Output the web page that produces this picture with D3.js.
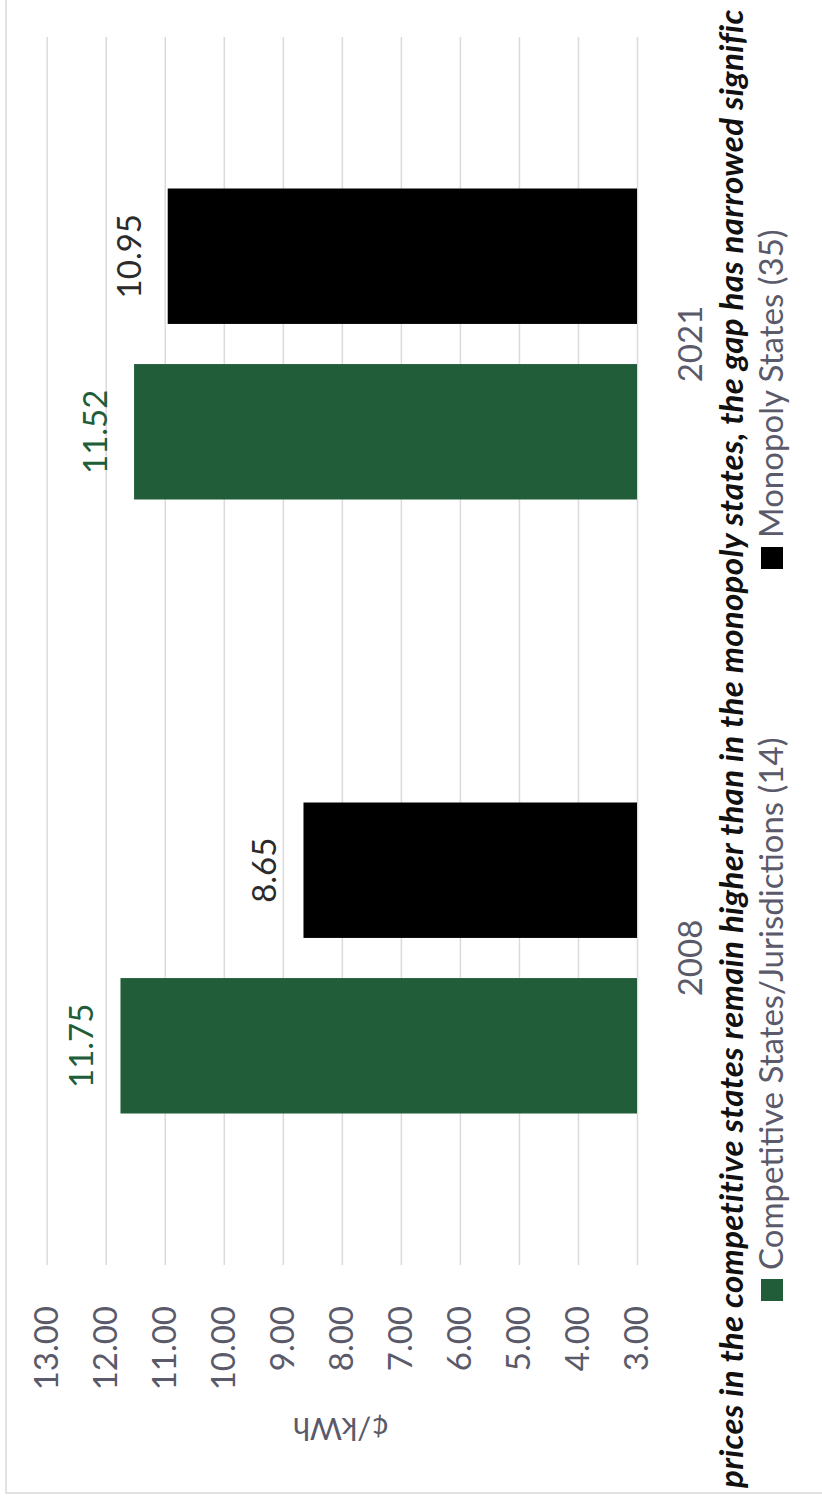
<!DOCTYPE html>
<html>
<head>
<meta charset="utf-8">
<script src="https://d3js.org/d3.v7.min.js"></script>
<style>
  body { margin: 0; background: #fff; }
  text { font-family: Lato, "Open Sans", sans-serif; }
</style>
</head>
<body>
<div id="chart"></div>
<script>
// values
const years = ["2008", "2021"];
const seriesNames = ["Competitive States/Jurisdictions (14)", "Monopoly States (35)"];
const competitive = [11.75, 11.52];
const monopoly = [8.65, 10.95];
const yTicks = [3, 4, 5, 6, 7, 8, 9, 10, 11, 12, 13];
// the caption is cropped in the source image, keep only the visible part
const title = "prices in the competitive states remain higher than in the monopoly states, the gap has narrowed signific";
const axisTitle = "¢/kWh";

const colors = {"Competitive States/Jurisdictions (14)": "#215d39", "Monopoly States (35)": "#000000"};
const labelColors = {"Competitive States/Jurisdictions (14)": "#215d39", "Monopoly States (35)": "#2b2b2b"};
const greyText = "#5a5a6a";

// page is portrait, the chart itself is laid out landscape and turned -90deg
const pageW = 822, pageH = 1498;
const W = pageH, H = pageW;
const plot = {left: 233, right: 1461, top: 46.7, base: 637};

const svg = d3.select("#chart").append("svg")
    .attr("width", pageW)
    .attr("height", pageH);

const g = svg.append("g")
    .attr("transform", "translate(0," + pageH + ") rotate(-90)");

// chart border (only the left and top edges are inside the crop)
g.append("rect")
    .attr("x", 5).attr("y", 6)
    .attr("width", W + 100).attr("height", H + 100)
    .attr("fill", "none")
    .attr("stroke", "#d9d9d9")
    .attr("stroke-width", 1.5);

let rows = years.map((y, i) => ({year: y, values: [
    {name: seriesNames[0], value: competitive[i]},
    {name: seriesNames[1], value: monopoly[i]}
]}));

let x0 = d3.scaleBand()
    .domain(years)
    .range([plot.left, plot.right])
    .paddingInner(0.4935)
    .paddingOuter(0.4935 / 2);

let x1 = d3.scaleBand()
    .domain(seriesNames)
    .range([0, x0.bandwidth()])
    .paddingInner(0.2286);

let yScale = d3.scaleLinear()
    .domain([3, 13])
    .range([plot.base, plot.top]);

// gridlines
let yAxis = d3.axisLeft(yScale)
    .tickValues(yTicks)
    .tickSize(-(plot.right - plot.left))
    .tickFormat(d3.format(".2f"))
    .tickPadding(plot.left - 192);

let yAxisG = g.append("g")
    .attr("transform", "translate(" + plot.left + ",0)")
    .call(yAxis);
yAxisG.select(".domain").remove();
yAxisG.selectAll(".tick line")
    .attr("stroke", "#dfd8dc")
    .attr("stroke-width", 1.5);
yAxisG.selectAll(".tick text")
    .attr("fill", greyText)
    .style("font-size", "33px");

// category axis labels
let xAxis = d3.axisBottom(x0).tickSize(0).tickPadding(0);
let xAxisG = g.append("g")
    .attr("transform", "translate(0,677)")
    .call(xAxis);
xAxisG.select(".domain").remove();
xAxisG.selectAll(".tick text")
    .attr("fill", greyText)
    .attr("dy", 0)
    .attr("y", 25)
    .style("font-size", "33px");

// bars
let group = g.append("g").selectAll("g").data(rows).enter().append("g")
    .attr("transform", d => "translate(" + x0(d.year) + ",0)");

group.selectAll("rect").data(d => d.values).enter().append("rect")
    .attr("x", d => x1(d.name))
    .attr("width", x1.bandwidth())
    .attr("y", d => yScale(d.value))
    .attr("height", d => yScale(3) - yScale(d.value))
    .attr("fill", d => colors[d.name]);

group.selectAll("text.val").data(d => d.values).enter().append("text")
    .attr("class", "val")
    .attr("x", d => x1(d.name) + x1.bandwidth() / 2)
    .attr("y", d => yScale(d.value) - 27)
    .attr("text-anchor", "middle")
    .attr("fill", d => labelColors[d.name])
    .style("font-size", "33px")
    .text(d => d3.format(".2f")(d.value));

// value axis title, upside down on the page
g.append("text")
    .attr("transform", "translate(68,341) rotate(-90)")
    .attr("text-anchor", "middle")
    .attr("dominant-baseline", "central")
    .attr("fill", greyText)
    .style("font-size", "31px")
    .text(axisTitle);

// caption line
g.append("text")
    .attr("x", 10)
    .attr("y", 743)
    .attr("fill", "#111")
    .style("font-size", "33px")
    .style("letter-spacing", "0.35px")
    .style("font-weight", "bold")
    .style("font-style", "italic")
    .text(title);

// legend
let legendX = [197, 929];
let legend = g.append("g").selectAll("g").data(seriesNames).enter().append("g")
    .attr("transform", (d, i) => "translate(" + legendX[i] + ",761)");
legend.append("rect")
    .attr("width", 22).attr("height", 22)
    .attr("fill", d => colors[d]);
legend.append("text")
    .attr("x", 31)
    .attr("y", 22)
    .attr("fill", greyText)
    .style("font-size", "33px")
    .text(d => d);
</script>
</body>
</html>
